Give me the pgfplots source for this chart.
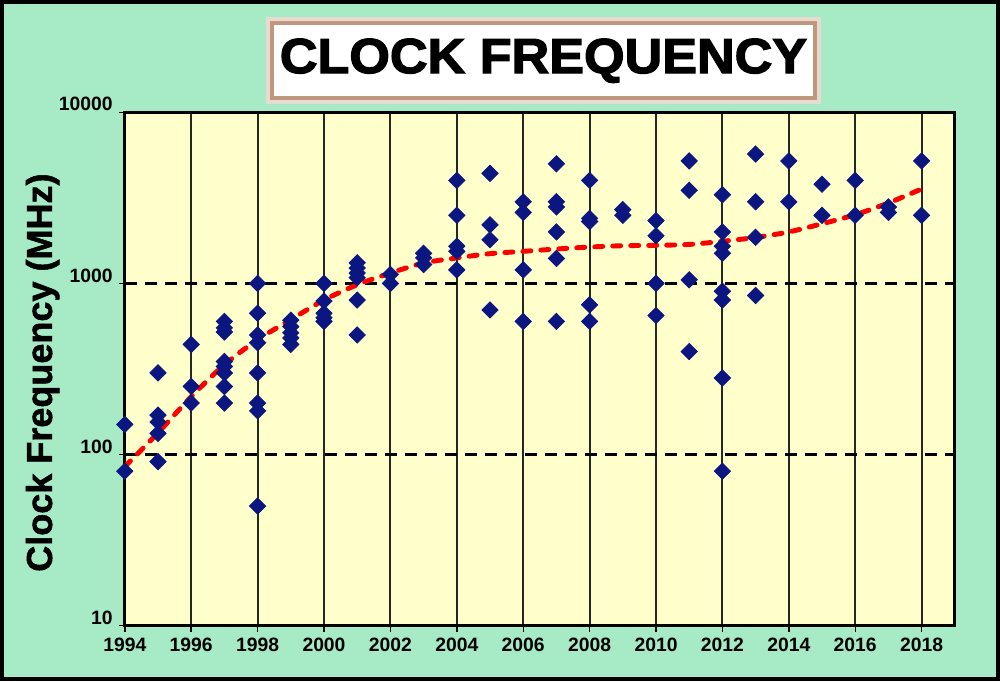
\documentclass[border=0pt]{standalone}
\usepackage{fontspec}
\setmainfont{Liberation Sans}
\newfontfamily\titlefont{Liberation Sans}[BoldFeatures={FakeBold=2.6, FakeStretch=1.06}]
\newfontfamily\labelfont{Liberation Sans}[BoldFeatures={FakeBold=1.4}]
\usepackage{pgfplots}
\pgfplotsset{compat=1.18}
\definecolor{bggreen}{RGB}{166,234,198}
\definecolor{plotyellow}{RGB}{255,255,204}
\definecolor{dotblue}{RGB}{12,22,128}
\definecolor{tanedge}{RGB}{192,150,124}

% processors: year, clock (MHz)
\pgfplotstableread{
year mhz
1994 150
1994 80
1995 300
1995 170
1995 155
1995 133
1995 91
1996 440
1996 250
1996 200
1997 600
1997 550
1997 520
1997 350
1997 327
1997 300
1997 250
1997 200
1998 1000
1998 670
1998 500
1998 450
1998 300
1998 200
1998 180
1998 50
1999 610
1999 560
1999 515
1999 480
1999 440
2000 1000
2000 790
2000 670
2000 630
2000 600
2001 1320
2001 1230
2001 1150
2001 1080
2001 800
2001 500
2002 1130
2002 1000
2003 1500
2003 1410
2003 1290
2004 4000
2004 2500
2004 1650
2004 1540
2004 1200
2005 4400
2005 2200
2005 1800
2005 700
2006 3000
2006 2600
2006 1200
2006 600
2007 5000
2007 3000
2007 2800
2007 2000
2007 1400
2007 600
2008 4000
2008 2400
2008 2300
2008 750
2008 600
2009 2700
2009 2500
2010 2330
2010 1900
2010 1000
2010 650
2011 5200
2011 3500
2011 1050
2011 400
2012 3300
2012 2000
2012 1650
2012 1500
2012 900
2012 800
2012 280
2012 80
2013 5700
2013 3000
2013 1860
2013 850
2014 5200
2014 3000
2015 3800
2015 2500
2016 4000
2016 2500
2017 2800
2017 2600
2018 5200
2018 2500
}\cpudata

\pgfplotstableread{
year mhz
1994 85
1995 134
1996 218
1997 335
1998 469
1999 614
2000 800
2001 982
2002 1150
2003 1316
2004 1409
2005 1493
2006 1540
2007 1589
2008 1632
2009 1661
2010 1670
2011 1690
2012 1763
2013 1857
2014 2000
2015 2232
2016 2520
2017 2953
2018 3565
}\trend

\begin{document}
\begin{tikzpicture}
\useasboundingbox (-2.496,-1.106) rectangle (17.504,12.514);
\fill[bggreen] (-2.496,-1.106) rectangle (17.504,12.514);
\draw[black, line width=0.08cm] (-2.456,-1.066) rectangle (17.464,12.474);
\begin{axis}[at={(0,0)}, anchor=south west, scale only axis,
  width=16.6cm, height=10.268cm,
  xmin=1994, xmax=2019, ymode=log, ymin=10, ymax=10000,
  axis background/.style={fill=plotyellow},
  axis line style={line width=1.7pt},
  xtick={1994,1996,...,2018}, ytick={10,100,1000,10000},
  yticklabels={10,100,1000,10000}, yminorticks=false,
  xtick pos=bottom, ytick pos=left,
  tick align=outside, major tick length=0.12cm,
  tick style={black, line width=0.8pt},
  x tick label style={/pgf/number format/1000 sep={}},
  y tick label style={yshift=0.16cm},
  /pgf/number format/assume math mode=true,
  ticklabel style={font=\bfseries\fontsize{11}{13}\selectfont},
  xmajorgrids, ymajorgrids,
  x grid style={black!85, line width=1.1pt},
  y grid style={black, line width=1.7pt, dash pattern=on 0.24cm off 0.16cm},
  title={CLOCK FREQUENCY},
  every axis title/.style={at={(axis description cs:0.5045,1.1005)}, anchor=center,
    fill=white, draw=tanedge, line width=2pt, inner sep=0pt,
    minimum width=10.86cm, minimum height=1.5cm,
    preaction={draw=tanedge!35, line width=7pt},
    font=\titlefont\bfseries\fontsize{28}{30}\selectfont},
  ylabel={Clock Frequency (MHz)},
  ylabel style={at={(axis description cs:-0.099,0.493)}, anchor=center,
    font=\labelfont\bfseries\fontsize{20.5}{24}\selectfont},
]
\addplot[only marks, mark=square*, mark size=3.3pt,
  mark options={rotate=45, fill=dotblue, draw=dotblue}] table[x=year, y=mhz] {\cpudata};
\addplot[red, line width=2.8pt, dash pattern=on 0.16cm off 0.2cm,
  line cap=round, smooth, no marks] table[x=year, y=mhz] {\trend};
\end{axis}
\end{tikzpicture}
\end{document}
